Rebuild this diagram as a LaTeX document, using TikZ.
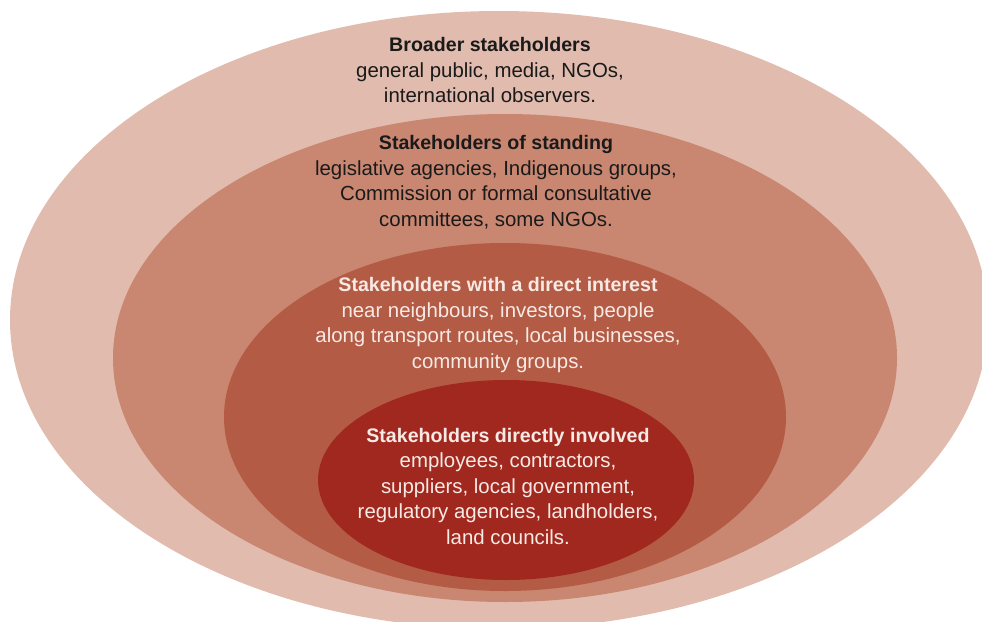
\documentclass[tikz,border=0pt]{standalone}
\usepackage{fontspec}
\setmainfont{Liberation Sans}
\usetikzlibrary{positioning}
\definecolor{ringouter}{HTML}{E1BBAD}
\definecolor{ringstanding}{HTML}{C98670}
\definecolor{ringinterest}{HTML}{B35B44}
\definecolor{ringinvolved}{HTML}{A1281F}
\definecolor{textdark}{HTML}{1A1A1A}
\definecolor{textlight}{HTML}{F7EAE5}
\newcommand{\ringtitle}[1]{{\fontsize{19.6}{25.5}\selectfont\bfseries #1}}
\tikzset{
  ring/.style={fill=#1,draw=none},
  ringlabel/.style={align=center,text=#1,
    font=\fontsize{20.4}{25.5}\selectfont}
}

\begin{document}
\begin{tikzpicture}[x=1pt,y=-1pt]
  % Canvas
  \useasboundingbox (0,0) rectangle (982,621);
  \clip (0,0) rectangle (982,621);
  %
  % Rings, from the outside in
  \fill[ring=ringouter]    (499,320) ellipse [x radius=489,y radius=309];
  \fill[ring=ringstanding] (505,358) ellipse [x radius=392,y radius=244];
  \fill[ring=ringinterest] (505,417) ellipse [x radius=281,y radius=174];
  \fill[ring=ringinvolved] (506,480) ellipse [x radius=188,y radius=100];
  %
  % Labels
  \node[ringlabel=textdark] (broader) at (490,70)
    {\ringtitle{Broader stakeholders}\\general public, media, NGOs,\\international observers.};
  \node[ringlabel=textdark] (standing) at (496,182)
    {\ringtitle{Stakeholders of standing}\\legislative agencies, Indigenous groups,\\Commission or formal consultative\\committees, some NGOs.};
  \node[ringlabel=textlight] (interest) at (498,325)
    {\ringtitle{Stakeholders with a direct interest}\\near neighbours, investors, people\\along transport routes, local businesses,\\community groups.};
  \node[ringlabel=textlight] (involved) at (508,486)
    {\ringtitle{Stakeholders directly involved}\\employees, contractors,\\suppliers, local government,\\regulatory agencies, landholders,\\land councils.};
  %
\end{tikzpicture}
\end{document}
